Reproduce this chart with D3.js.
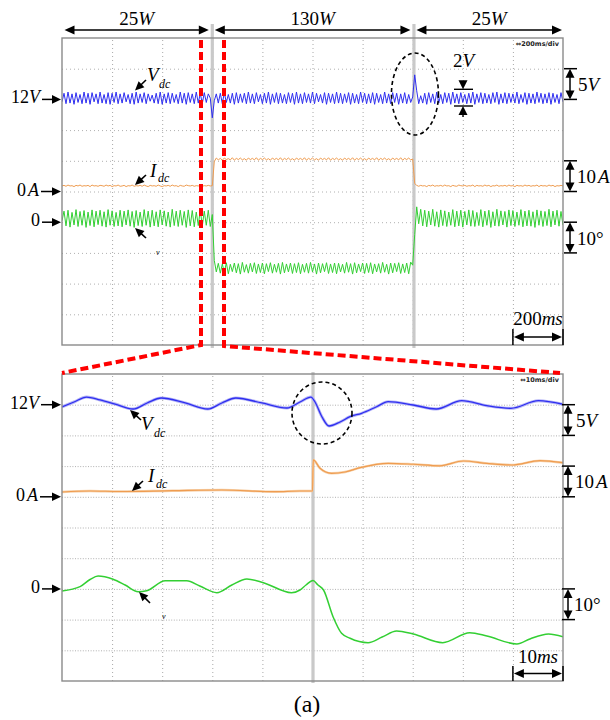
<!DOCTYPE html>
<html><head><meta charset="utf-8">
<script src="https://cdn.jsdelivr.net/npm/d3@7/dist/d3.min.js"></script>
<style>body{margin:0;background:#fff}svg{display:block}</style>
</head><body><svg id="c" width="610" height="720"></svg>
<script>
// ---------------- DATA ----------------
// upper record: 200 ms/div, samples every 8 ms
const topStepMs = 8;
const topEvents = [600, 1405];                 // load step on / off (ms)
const topSegLabels = [["25","W"],["130","W"],["25","W"]];
const topVdc = [
11.6,13.0,11.3,13.2,11.4,12.9,11.2,13.1,11.5,12.8,
11.3,13.2,11.4,13.0,11.2,13.1,11.6,12.9,11.3,13.2,
11.4,12.8,11.3,13.1,11.2,13.0,11.5,13.2,11.3,12.9,
11.4,13.1,11.6,12.8,11.3,13.0,11.2,13.2,11.4,12.9,
11.5,13.1,11.3,12.9,11.7,12.7,11.4,13.0,11.3,13.2,
11.2,12.9,11.4,13.1,11.3,13.0,11.5,12.8,11.3,13.2,
11.4,13.0,11.2,13.1,11.5,12.9,11.3,13.2,11.4,13.0,
11.3,13.1,11.5,12.9,12.2,9.0,11.8,12.9,11.4,13.0,
11.3,13.1,11.5,12.8,11.4,13.0,11.2,13.1,11.4,12.9,
11.5,13.0,11.3,13.2,11.4,12.9,11.3,13.1,11.6,12.8,
11.3,13.0,11.4,13.2,11.2,12.9,11.5,13.1,11.3,13.0,
11.4,12.8,11.3,13.1,11.5,13.0,11.2,13.2,11.4,12.9,
11.3,13.1,11.5,12.9,11.4,13.2,11.3,13.0,11.6,12.8,
11.4,13.1,11.2,13.0,11.5,12.9,11.3,13.2,11.4,13.0,
11.3,12.9,11.5,13.1,11.2,13.0,11.4,12.8,11.3,13.2,
11.5,13.0,11.3,12.9,11.4,13.1,11.2,13.0,11.5,12.8,
11.3,13.2,11.4,12.9,11.3,13.1,11.5,13.0,11.2,12.9,
11.4,13.1,11.3,12.8,11.5,12.4,16.0,13.4,11.3,12.6,
11.4,13.0,11.2,13.1,11.5,12.9,11.3,13.2,11.4,12.8,
11.3,13.1,11.5,13.0,11.2,13.2,11.4,12.9,11.3,13.1,
11.5,12.8,11.3,13.0,11.4,13.2,11.2,12.9,11.5,13.1,
11.3,13.0,11.4,12.8,11.3,13.1,11.5,13.2,11.2,12.9,
11.4,13.1,11.3,13.0,11.5,12.9,11.4,13.2,11.3,12.8,
11.5,13.1,11.2,13.0,11.4,12.9,11.3,13.2,11.5,13.0,
11.3,12.9,11.4,13.1,11.2,13.0,11.5,12.8,11.3,13.1,
11.6];
const topIdc = [
1.8,2.0,1.7,2.1,1.8,1.9,1.6,2.0,1.8,2.1,
1.7,1.9,1.8,2.0,1.6,2.1,1.8,1.9,1.7,2.0,
1.9,1.7,2.1,1.8,2.0,1.6,1.9,1.8,2.1,1.7,
1.8,2.0,1.6,1.9,1.8,2.1,1.7,1.9,1.8,2.0,
1.7,2.1,1.8,1.6,2.0,1.8,1.9,1.7,2.1,1.8,
1.6,1.9,1.8,2.0,1.7,2.1,1.8,1.9,1.6,2.0,
1.8,1.7,2.1,1.9,1.8,2.0,1.7,1.9,1.8,2.1,
1.7,1.9,1.8,2.0,1.8,1.9,9.8,10.9,10.3,10.8,
10.2,10.9,10.4,10.7,10.3,11.0,10.2,10.8,10.4,10.9,
10.3,10.7,10.2,10.9,10.4,10.8,10.3,11.0,10.2,10.8,
10.4,10.9,10.3,10.7,10.2,10.9,10.4,10.8,10.3,11.0,
10.2,10.8,10.4,10.9,10.3,10.7,10.2,10.9,10.4,10.8,
10.3,11.0,10.2,10.8,10.4,10.9,10.3,10.7,10.2,10.9,
10.4,10.8,10.3,11.0,10.2,10.8,10.4,10.9,10.3,10.7,
10.2,10.9,10.4,10.8,10.3,11.0,10.2,10.8,10.4,10.9,
10.3,10.7,10.2,10.9,10.4,10.8,10.3,11.0,10.2,10.8,
10.4,10.9,10.3,10.7,10.2,10.9,10.4,10.8,10.3,11.0,
10.2,10.8,10.4,10.9,10.3,10.6,2.6,2.0,1.7,2.0,
1.8,1.9,1.6,2.0,1.8,2.1,1.7,1.9,1.8,2.0,
1.7,2.1,1.8,1.9,1.6,2.0,1.8,1.7,2.1,1.9,
1.8,2.0,1.7,1.9,1.8,2.1,1.6,2.0,1.8,1.9,
1.7,2.1,1.8,2.0,1.6,1.9,1.8,2.1,1.7,1.9,
1.8,2.0,1.7,2.1,1.8,1.9,1.6,2.0,1.8,1.9,
1.7,2.1,1.8,2.0,1.7,1.9,1.8,2.1,1.6,2.0,
1.8,1.9,1.7,2.1,1.8,2.0,1.6,1.9,1.8,2.0,
1.8];
const topAngle = [
0.5,3.6,-1.2,3.9,-1.6,3.2,-0.9,4.1,-1.4,3.5,
-1.0,3.8,-1.7,3.3,-1.1,4.0,-1.5,3.6,-0.8,3.9,
-1.3,3.4,-1.6,4.1,-1.0,3.7,-1.4,3.2,-1.2,3.9,
-1.5,3.6,-0.9,4.0,-1.3,3.5,-1.7,3.8,-1.1,3.3,
-1.4,4.1,-1.0,3.6,-1.6,3.9,-1.2,3.4,-1.5,4.0,
-0.9,3.7,-1.3,3.3,-1.6,4.2,-1.1,3.6,-1.4,3.9,
-1.0,3.5,-1.7,4.0,-1.2,3.8,-1.5,3.3,-1.1,4.1,
-1.3,3.6,-1.0,3.9,-1.4,2.5,-12.5,-16.2,-13.4,-16.6,
-13.6,-16.4,-13.2,-16.8,-13.7,-16.1,-13.3,-16.5,-13.5,-16.9,
-13.1,-16.3,-13.8,-16.6,-13.4,-16.2,-13.2,-16.7,-13.6,-16.4,
-13.3,-16.8,-13.5,-16.1,-13.2,-16.6,-13.7,-16.3,-13.4,-16.9,
-13.1,-16.5,-13.6,-16.2,-13.3,-16.7,-13.5,-16.4,-13.2,-16.8,
-13.7,-16.3,-13.4,-16.6,-13.1,-16.2,-13.6,-16.9,-13.3,-16.5,
-13.5,-16.1,-13.2,-16.7,-13.6,-16.4,-13.3,-16.8,-13.4,-16.2,
-13.7,-16.6,-13.1,-16.3,-13.5,-16.9,-13.2,-16.5,-13.6,-16.1,
-13.3,-16.7,-13.4,-16.4,-13.2,-16.8,-13.6,-16.2,-13.5,-16.6,
-13.1,-16.3,-13.7,-16.9,-13.3,-16.5,-13.4,-16.1,-13.2,-16.7,
-13.6,-16.4,-13.3,-16.8,-13.0,-14.0,-4.0,5.0,-0.5,4.2,
-1.2,3.9,-1.5,3.6,-0.9,4.2,-1.3,3.4,-1.6,4.0,
-1.1,3.7,-1.4,3.3,-1.0,4.1,-1.5,3.6,-1.2,3.9,
-1.6,3.5,-0.9,4.0,-1.3,3.8,-1.4,3.2,-1.1,4.1,
-1.5,3.6,-1.0,3.9,-1.7,3.4,-1.2,4.2,-1.3,3.7,
-0.9,3.5,-1.6,4.0,-1.1,3.8,-1.4,3.3,-1.0,4.1,
-1.5,3.6,-1.2,3.9,-1.3,3.4,-1.7,4.0,-1.0,3.7,
-1.4,3.5,-1.1,4.2,-1.5,3.6,-0.9,3.9,-1.3,3.5,
-1.0];

// lower record: 10 ms/div (zoom of the load step)
const botEvent = 50.1;
const botVdcT = [0,2.4,4.9,7.6,10.6,14.2,17.0,19.8,24.6,29.1,31.9,34.7,39.9,44.9,47.5,49.7,50.5,51.9,53.3,55.5,57.5,59.8,62.8,65.1,70.1,74.7,79.8,84.8,89.6,95.1,100];
const botVdc  = [11.63,12.44,13.25,12.77,12.11,11.30,12.28,13.09,12.28,11.30,12.28,13.09,12.28,11.46,12.44,13.25,12.44,10.0,8.53,9.18,10.05,10.6,11.67,12.49,11.95,11.30,12.65,11.84,11.41,12.65,12.07];
const botIdcT = [0,5.6,11.6,22,31.9,42.5,47.5,50.0,50.15,51.5,53.8,56.5,59.5,65.1,70.1,75.4,80.1,84.8,89.8,95.4,100];
const botIdc  = [1.56,1.89,1.73,1.99,2.21,1.66,1.89,1.89,12.0,9.28,7.65,8.08,9.48,10.9,10.6,10.1,11.66,10.9,10.36,11.76,11.1];
const botAngT = [0,3.6,5.6,7.2,10.2,12.6,15.2,16.9,20.6,24.9,27.5,30.9,33.9,36.9,40.2,45.8,47.5,48.7,50.1,51.1,52.2,54.1,55.8,57.5,61.1,63.9,66.8,70.1,76.0,81.4,84.8,90.8,93.4,97.1,100];
const botAng  = [-0.68,0.72,3.06,4.2,3.13,1.27,-0.91,-0.59,2.67,2.67,0.94,-1.24,1.27,3.22,2.02,-1.24,-0.36,1.27,2.74,1.27,-0.36,-9.06,-14.46,-16.09,-17.52,-15.67,-13.71,-14.69,-17.52,-14.27,-15.34,-17.95,-16.3,-14.69,-15.57];

// ---------------- DRAWING ----------------
const svg = d3.select("#c");
const serif = "'Liberation Serif','Times New Roman',serif";
const C_V = "#2f2ff0", C_I = "#ef9c50", C_A = "#33cf33";

const P1 = {x0:62, x1:563, y0:38, y1:345};
const P2 = {x0:62, x1:563, y0:374, y1:681};

const x1 = d3.scaleLinear().domain([0,2000]).range([P1.x0,P1.x1]);
const d1 = d3.scaleLinear().domain([0,10]).range([P1.y0,P1.y1]);
const vdc1 = d3.scaleLinear().domain([12,7]).range([d1(2),d1(3)]);
const idc1 = d3.scaleLinear().domain([0,10]).range([d1(5),d1(4)]);
const ang1 = d3.scaleLinear().domain([0,-10]).range([d1(6),d1(7)]);

const x2 = d3.scaleLinear().domain([0,100]).range([P2.x0,P2.x1]);
const d2 = d3.scaleLinear().domain([0,10]).range([P2.y0,P2.y1]);
const vdc2 = d3.scaleLinear().domain([12,7]).range([d2(1),d2(2)]);
const idc2 = d3.scaleLinear().domain([0,10]).range([d2(4),d2(3)]);
const ang2 = d3.scaleLinear().domain([0,-10]).range([d2(7),d2(8)]);

function head(g,tx,ty,dx,dy,len,hw){
  const n=Math.hypot(dx,dy); dx/=n; dy/=n;
  const bx=tx-dx*len, by=ty-dy*len;
  g.append("path").attr("d",`M${tx},${ty}L${bx-dy*hw},${by+dx*hw}L${bx+dy*hw},${by-dx*hw}Z`).attr("fill","#000");
}
function pointer(g,xa,ya,xb,yb,len,hw){
  len=len||9; hw=hw||4.2;
  const n=Math.hypot(xb-xa,yb-ya);
  g.append("line").attr("x1",xa).attr("y1",ya).attr("x2",xb-(xb-xa)/n*(len-1)).attr("y2",yb-(yb-ya)/n*(len-1))
   .attr("stroke","#000").attr("stroke-width",1.6);
  head(g,xb,yb,xb-xa,yb-ya,len,hw);
}
function label(g,x,y,parts,size,anchor){
  const t=g.append("text").attr("x",x).attr("y",y).attr("font-family",serif).attr("font-size",size)
    .attr("text-anchor",anchor||"start").attr("fill","#000");
  parts.forEach(p=>t.append("tspan").attr("font-style",p[1]?"italic":"normal").attr("dx",p[2]||0).text(p[0]));
  return t;
}

function panel(P, xs, ds, xticks, hDash, id){
  const g = svg.append("g");
  g.append("defs").append("clipPath").attr("id",id).append("rect")
    .attr("x",P.x0).attr("y",P.y0).attr("width",P.x1-P.x0).attr("height",P.y1-P.y0);
  const gv = g.append("g").attr("transform",`translate(0,${P.y1})`)
    .call(d3.axisBottom(xs).tickValues(xticks).tickSize(-(P.y1-P.y0)).tickFormat(""));
  gv.select(".domain").remove();
  gv.selectAll("line").attr("stroke","#a8a8a8").attr("stroke-width",1).attr("stroke-dasharray","1,3");
  const gh = g.append("g").attr("transform",`translate(${P.x0},0)`)
    .call(d3.axisLeft(ds).tickValues(d3.range(1,10)).tickSize(-(P.x1-P.x0)).tickFormat(""));
  gh.select(".domain").remove();
  gh.selectAll("line").attr("stroke","#b0b0b0").attr("stroke-width",1).attr("stroke-dasharray",hDash);
  return g;
}

// ---- panels / grids
panel(P1, x1, d1, d3.range(200,2000,200), "1,3", "clipTop");
panel(P2, x2, d2, d3.range(10,100,10), "1,1.6", "clipBot");

// gray event bands
topEvents.forEach(t=>{
  svg.append("rect").attr("x",x1(t)-1.6).attr("y",24).attr("width",3.2).attr("height",P1.y1+3-24).attr("fill","#c9c9c9");
});
svg.append("rect").attr("x",x2(botEvent)-1.6).attr("y",P2.y0-2).attr("width",3.2).attr("height",P2.y1-P2.y0+4).attr("fill","#c9c9c9");

// ---- top traces
const gT = svg.append("g").attr("clip-path","url(#clipTop)");
const lineTop = sc => d3.line().x((d,i)=>x1(i*topStepMs)).y(d=>sc(d));
gT.append("path").datum(topIdc).attr("d",lineTop(idc1)).attr("fill","none").attr("stroke",C_I).attr("stroke-width",1);
gT.append("path").datum(topAngle).attr("d",lineTop(ang1)).attr("fill","none").attr("stroke",C_A).attr("stroke-width",1);
gT.append("path").datum(topVdc).attr("d",lineTop(vdc1)).attr("fill","none").attr("stroke",C_V).attr("stroke-width",1);

// ---- bottom traces
const gB = svg.append("g").attr("clip-path","url(#clipBot)");
const lineBot = (ts,sc) => d3.line().curve(d3.curveMonotoneX).x((d,i)=>x2(ts[i])).y(d=>sc(d));
gB.append("path").datum(botIdc).attr("d",lineBot(botIdcT,idc2)).attr("fill","none").attr("stroke","#f6d0a8").attr("stroke-width",2.4);
gB.append("path").datum(botIdc).attr("d",lineBot(botIdcT,idc2)).attr("fill","none").attr("stroke",C_I).attr("stroke-width",1.2);
gB.append("path").datum(botAng).attr("d",lineBot(botAngT,ang2)).attr("fill","none").attr("stroke",C_A).attr("stroke-width",1.5);
gB.append("path").datum(botVdc).attr("d",lineBot(botVdcT,vdc2)).attr("fill","none").attr("stroke","#b4b4f6").attr("stroke-width",3);
gB.append("path").datum(botVdc).attr("d",lineBot(botVdcT,vdc2)).attr("fill","none").attr("stroke",C_V).attr("stroke-width",1.3);

// panel borders
[P1,P2].forEach(P=>svg.append("rect").attr("x",P.x0).attr("y",P.y0).attr("width",P.x1-P.x0).attr("height",P.y1-P.y0)
  .attr("fill","none").attr("stroke","#8a8a8a").attr("stroke-width",1.4));

// tiny scope texts
svg.append("text").attr("x",559).attr("y",46).attr("text-anchor","end").attr("font-family","DejaVu Sans").attr("font-weight","bold")
  .attr("font-size",6.5).attr("fill","#222").text("\u21D4200ms/div");
svg.append("text").attr("x",559).attr("y",382).attr("text-anchor","end").attr("font-family","DejaVu Sans").attr("font-weight","bold")
  .attr("font-size",6.5).attr("fill","#222").text("\u21D410ms/div");

// ---- red zoom indicator
const red = svg.append("g").attr("fill","none").attr("stroke","#ff0000").attr("stroke-width",4).attr("stroke-dasharray","8,4");
red.append("path").attr("d",`M201,40L201,${P1.y1}L${P2.x0},${P2.y0-1}`);
red.append("path").attr("d",`M224,40L224,${P1.y1+1}L${P2.x1-3},${P2.y0-1}`);

// ---- annotations
const A = svg.append("g");
// top duration arrows
const bounds = [x1(0), x1(topEvents[0]), x1(topEvents[1]), x1(2000)];
topSegLabels.forEach((lab,i)=>{
  const a = bounds[i]+2.5, b = bounds[i+1]-(i===2?1:3.5), y=30;
  A.append("line").attr("x1",a+8).attr("x2",b-8).attr("y1",y).attr("y2",y).attr("stroke","#000").attr("stroke-width",1.6);
  head(A,a,y,-1,0,10,4.5); head(A,b,y,1,0,10,4.5);
  label(A,(a+b)/2,25,[[lab[0],0],[lab[1],1]],19,"middle");
});

// left reference arrows
function refArrow(y,parts,x0){
  A.append("line").attr("x1",x0).attr("x2",55).attr("y1",y).attr("y2",y).attr("stroke","#000").attr("stroke-width",1.5);
  head(A,61,y,1,0,9,4.3);
  label(A,x0-2,y+4,parts,18,"end");
}
refArrow(vdc1(12),[["12",0],["V",1]],42);
refArrow(idc1(0),[["0",0],["A",1,2]],41);
refArrow(ang1(0),[["0",0]],42);
refArrow(vdc2(12),[["12",0],["V",1]],41);
refArrow(idc2(0),[["0",0],["A",1,2]],40);
refArrow(ang2(0),[["0",0]],42);

// right division bars
function divBar(x,ya,yb,parts,tx){
  A.append("line").attr("x1",x-6).attr("x2",x+7).attr("y1",ya).attr("y2",ya).attr("stroke","#000").attr("stroke-width",1.5);
  A.append("line").attr("x1",x-6).attr("x2",x+7).attr("y1",yb).attr("y2",yb).attr("stroke","#000").attr("stroke-width",1.5);
  A.append("line").attr("x1",x).attr("x2",x).attr("y1",ya+6).attr("y2",yb-6).attr("stroke","#000").attr("stroke-width",1.5);
  head(A,x,ya,0,-1,9,4.5); head(A,x,yb,0,1,9,4.5);
  label(A,tx,(ya+yb)/2+7,parts,19);
}
divBar(570, vdc1(17), vdc1(12), [["5",0],["V",1]], 578);
divBar(570, idc1(10), idc1(0), [["10",0],["A",1,2]], 577);
divBar(570, ang1(0), ang1(-10), [["10°",0]], 577);
divBar(568, vdc2(12), vdc2(7), [["5",0],["V",1]], 576);
divBar(568, idc2(10), idc2(0), [["10",0],["A",1,2]], 575);
divBar(568, ang2(0), ang2(-10), [["10°",0]], 574);

// time-scale bars
function timeBar(xa,xb,yTop,yBot,yArr,parts,ty){
  [xa,xb].forEach(x=>A.append("line").attr("x1",x).attr("x2",x).attr("y1",yTop).attr("y2",yBot).attr("stroke","#000").attr("stroke-width",1.5));
  A.append("line").attr("x1",xa+8).attr("x2",xb-8).attr("y1",yArr).attr("y2",yArr).attr("stroke","#000").attr("stroke-width",1.5);
  head(A,xa+1,yArr,-1,0,10,4.5); head(A,xb-1,yArr,1,0,10,4.5);
  label(A,(xa+xb)/2,ty,parts,19,"middle");
}
timeBar(x1(1800), x1(2000), 329, P1.y1, 337, [["200",0],["ms",1]], 325);
timeBar(x2(90), x2(100), 666, P2.y1, 673.5, [["10",0],["ms",1]], 663);

// 2V ripple marker
A.append("line").attr("x1",454).attr("x2",473).attr("y1",89.3).attr("y2",89.3).attr("stroke","#000").attr("stroke-width",1.4);
A.append("line").attr("x1",454).attr("x2",473).attr("y1",106).attr("y2",106).attr("stroke","#000").attr("stroke-width",1.4);
head(A,463,89.3,0,1,9,4.5);
head(A,463,106,0,-1,9,4.5);
A.append("line").attr("x1",463).attr("x2",463).attr("y1",112).attr("y2",117).attr("stroke","#000").attr("stroke-width",1.4);
label(A,453,67,[["2",0],["V",1]],19);

// dashed ellipse / circle
A.append("ellipse").attr("cx",x1(topEvents[1])+1).attr("cy",94).attr("rx",23.5).attr("ry",41)
  .attr("fill","none").attr("stroke","#000").attr("stroke-width",1.6).attr("stroke-dasharray","4,3");
A.append("ellipse").attr("cx",x2(botEvent)+9).attr("cy",413).attr("rx",30).attr("ry",31)
  .attr("fill","none").attr("stroke","#000").attr("stroke-width",1.6).attr("stroke-dasharray","4,3");

// trace name pointers (top)
pointer(A,146,80,135,90.5);
label(A,147,81,[["V",1]],19); label(A,159,88,[["dc",1]],12);
pointer(A,146,175,135,185);
label(A,150,177,[["I",1]],19); label(A,158,182,[["dc",1]],12);
pointer(A,146,238,135,228);
label(A,156,255,[["v",1]],8);
// trace name pointers (bottom)
pointer(A,141,420,130,410);
label(A,141,430,[["V",1]],19); label(A,154,437,[["dc",1]],12);
pointer(A,143,481,132,491);
label(A,148,482,[["I",1]],19); label(A,156,488,[["dc",1]],12);
pointer(A,150,603,139,592);
label(A,162,619,[["v",1]],8);

// caption
label(svg,307,712,[["(a)",0]],24,"middle");
</script></body></html>
